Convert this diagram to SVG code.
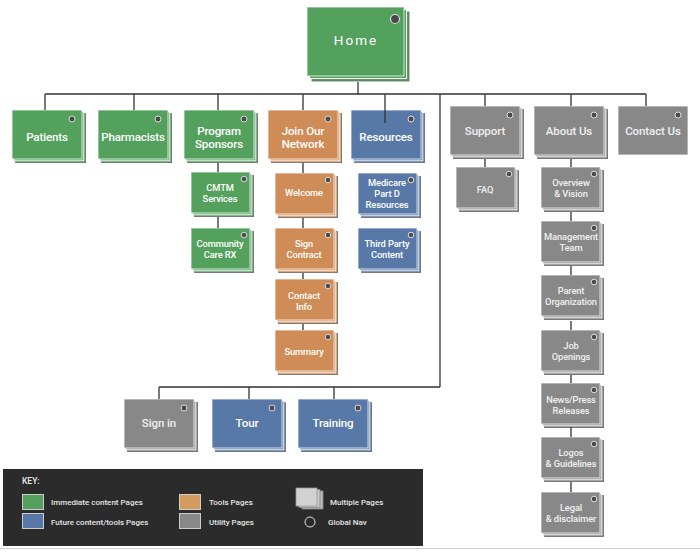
<svg xmlns="http://www.w3.org/2000/svg" xmlns:xlink="http://www.w3.org/1999/xlink" width="700" height="552" viewBox="0 0 700 552">
<style>
.g{fill:#54a15e}
.b{fill:#5878a8}
.o{fill:#d08c56}
.y{fill:#888888}
.t{font-family:Roboto,"Liberation Sans",sans-serif;font-weight:500;fill:#fff;text-anchor:middle;letter-spacing:-0.1px}
.big{font-size:11.5px}
.sm{font-size:9.3px}
.ty{fill:#f0f0f0}
.k{font-family:Roboto,"Liberation Sans",sans-serif;font-weight:500;fill:#e6e6e6;font-size:8px}
.ln{stroke:#333;stroke-width:1.3;fill:none}
</style>
<defs>
<g id="big">
<rect x="3.6" y="3.6" width="70" height="49" stroke="#6a6a6a" stroke-width="0.8"/>
<rect x="1.8" y="1.8" width="70" height="49" stroke="#fff" stroke-width="0.9"/>
<rect x="0" y="0" width="70" height="49" stroke="#fff" stroke-opacity="0.75" stroke-width="1"/>
<circle cx="60" cy="9" r="3" fill="#4a4a4a" stroke="#ddd" stroke-width="1"/>
</g>
<g id="single">
<rect x="0" y="0" width="70" height="49" stroke="#fff" stroke-opacity="0.75" stroke-width="1"/>
<circle cx="60" cy="9" r="3" fill="#4a4a4a" stroke="#ddd" stroke-width="1"/>
</g>
<g id="sml">
<rect x="3.6" y="3.6" width="59" height="41" stroke="#6a6a6a" stroke-width="0.8"/>
<rect x="1.8" y="1.8" width="59" height="41" stroke="#fff" stroke-width="0.9"/>
<rect x="0" y="0" width="59" height="41" stroke="#fff" stroke-opacity="0.75" stroke-width="1"/>
<circle cx="53" cy="7" r="2.8" fill="#4a4a4a" stroke="#ddd" stroke-width="1"/>
</g>
</defs>
<rect width="700" height="552" fill="#fff"/>

<g id="home">
<rect x="312" y="12" width="97" height="69" class="g" stroke="#6a6a6a" stroke-width="0.8"/>
<rect x="309.5" y="9.5" width="97" height="69" class="g" stroke="#fff" stroke-width="1"/>
<rect x="307" y="7" width="97" height="69" class="g" stroke="#fff" stroke-opacity="0.75" stroke-width="1"/>
<circle cx="395" cy="19" r="4.5" fill="#4a4a4a" stroke="#ddd" stroke-width="1.2"/>
<text x="356" y="45" class="t" style="font-size:13.5px;font-weight:400;letter-spacing:2px">Home</text>
</g>

<g id="patients"><use xlink:href="#big" x="12" y="110" class="g"/><text x="47" y="141" class="t big">Patients</text></g>
<g id="pharmacists"><use xlink:href="#big" x="98" y="110" class="g"/><text x="133" y="141" class="t big">Pharmacists</text></g>
<g id="program-sponsors"><use xlink:href="#big" x="184" y="110" class="g"/><text class="t big"><tspan x="219" y="134.5">Program</tspan><tspan x="219" y="148">Sponsors</tspan></text></g>
<g id="join-our-network"><use xlink:href="#big" x="268" y="110" class="o"/><text class="t big"><tspan x="303" y="134.5">Join Our</tspan><tspan x="303" y="148">Network</tspan></text></g>
<g id="resources"><use xlink:href="#big" x="351" y="110" class="b"/><text x="386" y="141" class="t big">Resources</text></g>
<g id="support"><use xlink:href="#big" x="450" y="106" class="y"/><text x="485" y="135" class="t big ty">Support</text></g>
<g id="about-us"><use xlink:href="#big" x="534" y="106" class="y"/><text x="569" y="135" class="t big ty">About Us</text></g>
<g id="contact-us"><use xlink:href="#single" x="618" y="106" class="y"/><text x="653" y="135" class="t big ty">Contact Us</text></g>

<g id="cmtm-services"><use xlink:href="#sml" x="191" y="172" class="g"/><text class="t sm"><tspan x="220" y="190.5">CMTM</tspan><tspan x="220" y="201.5">Services</tspan></text></g>
<g id="community-care-rx"><use xlink:href="#sml" x="191" y="228" class="g"/><text class="t sm"><tspan x="220" y="246.5">Community</tspan><tspan x="220" y="257.5">Care RX</tspan></text></g>

<g id="welcome"><use xlink:href="#sml" x="275" y="173" class="o"/><text x="304" y="196" class="t sm">Welcome</text></g>
<g id="sign-contract"><use xlink:href="#sml" x="275" y="228" class="o"/><text class="t sm"><tspan x="304" y="247">Sign</tspan><tspan x="304" y="258">Contract</tspan></text></g>
<g id="contact-info"><use xlink:href="#sml" x="275" y="279" class="o"/><text class="t sm"><tspan x="304" y="299">Contact</tspan><tspan x="304" y="310">Info</tspan></text></g>
<g id="summary"><use xlink:href="#sml" x="275" y="330" class="o"/><text x="304" y="355" class="t sm">Summary</text></g>

<g id="medicare-part-d-resources"><use xlink:href="#sml" x="358" y="173" class="b"/><text class="t sm"><tspan x="387" y="185.5">Medicare</tspan><tspan x="387" y="196.5">Part D</tspan><tspan x="387" y="207.5">Resources</tspan></text></g>
<g id="third-party-content"><use xlink:href="#sml" x="358" y="228" class="b"/><text class="t sm"><tspan x="387" y="247">Third Party</tspan><tspan x="387" y="258">Content</tspan></text></g>

<g id="faq"><use xlink:href="#sml" x="456" y="167" class="y"/><text x="485" y="193" class="t sm ty">FAQ</text></g>
<g id="overview-vision"><use xlink:href="#sml" x="541" y="167" class="y"/><text class="t sm ty"><tspan x="571" y="185.5">Overview</tspan><tspan x="571" y="196.5">&amp; Vision</tspan></text></g>
<g id="management-team"><use xlink:href="#sml" x="541" y="221" class="y"/><text class="t sm ty"><tspan x="571" y="239.5">Management</tspan><tspan x="571" y="250.5">Team</tspan></text></g>
<g id="parent-organization"><use xlink:href="#sml" x="541" y="275" class="y"/><text class="t sm ty"><tspan x="571" y="293.5">Parent</tspan><tspan x="571" y="304.5">Organization</tspan></text></g>
<g id="job-openings"><use xlink:href="#sml" x="541" y="330" class="y"/><text class="t sm ty"><tspan x="571" y="348.5">Job</tspan><tspan x="571" y="359.5">Openings</tspan></text></g>
<g id="news-press-releases"><use xlink:href="#sml" x="541" y="383" class="y"/><text class="t sm ty"><tspan x="571" y="402.5">News/Press</tspan><tspan x="571" y="413.5">Releases</tspan></text></g>
<g id="logos-guidelines"><use xlink:href="#sml" x="541" y="437" class="y"/><text class="t sm ty"><tspan x="571" y="455.5">Logos</tspan><tspan x="571" y="466.5">&amp; Guidelines</tspan></text></g>
<g id="legal-disclaimer"><use xlink:href="#sml" x="541" y="492" class="y"/><text class="t sm ty"><tspan x="571" y="510.5">Legal</tspan><tspan x="571" y="521.5">&amp; disclaimer</tspan></text></g>

<g id="sign-in"><use xlink:href="#big" x="124" y="399" class="y"/><text x="159" y="427" class="t big ty">Sign in</text></g>
<g id="tour"><use xlink:href="#big" x="212" y="399" class="b"/><text x="247" y="427" class="t big">Tour</text></g>
<g id="training"><use xlink:href="#big" x="298" y="399" class="b"/><text x="333" y="427" class="t big">Training</text></g>

<g id="connectors" class="ln">
<path d="M358 82V94M45 94H646M45 94V110M134 94V110M218 94V110M303 94V110M385 94V123M485 94V106M571 94V106M646 94V106"/>
<path d="M440 94V387M159 387H440M159 387V399M249 387V399M334 387V399"/>
<path d="M218 163V172M218 217V228M303 163V173M303 218V228M303 273V279M303 324V330"/>
<path d="M485 159V167M571 159V167M571 212V221M571 266V275M571 321V330M571 375V383M571 427V437M571 482V492"/>
</g>

<line x1="0" y1="548.5" x2="700" y2="548.5" stroke="#cfcfcf" stroke-width="1"/>

<g id="key">
<rect x="3" y="469" width="420" height="77" fill="#2b2b2b"/>
<text x="22" y="484" class="k" style="font-size:8.5px">KEY:</text>
<rect x="22.5" y="494.5" width="21" height="15" class="g" stroke="#ccc" stroke-width="1"/>
<rect x="22.5" y="513.5" width="21" height="15" class="b" stroke="#ccc" stroke-width="1"/>
<text x="51" y="505" class="k">Immediate content Pages</text>
<text x="51" y="525" class="k">Future content/tools Pages</text>
<rect x="179.5" y="494.5" width="21" height="15" fill="#d49a5e" stroke="#ccc" stroke-width="1"/>
<rect x="179.5" y="513.5" width="21" height="15" class="y" stroke="#ccc" stroke-width="1"/>
<text x="209" y="505" class="k">Tools Pages</text>
<text x="209" y="525" class="k">Utility Pages</text>
<rect x="302" y="491" width="21" height="18" fill="#bdbdbd" stroke="#888" stroke-width="0.8"/>
<rect x="299" y="489.5" width="21" height="18" fill="#c8c8c8" stroke="#888" stroke-width="0.8"/>
<rect x="296" y="488" width="21" height="18" fill="#d2d2d2" stroke="#999" stroke-width="0.8"/>
<text x="330" y="505" class="k">Multiple Pages</text>
<circle cx="310" cy="522" r="5" fill="none" stroke="#ddd" stroke-width="1"/>
<text x="328" y="525" class="k">Global Nav</text>
</g>
</svg>
